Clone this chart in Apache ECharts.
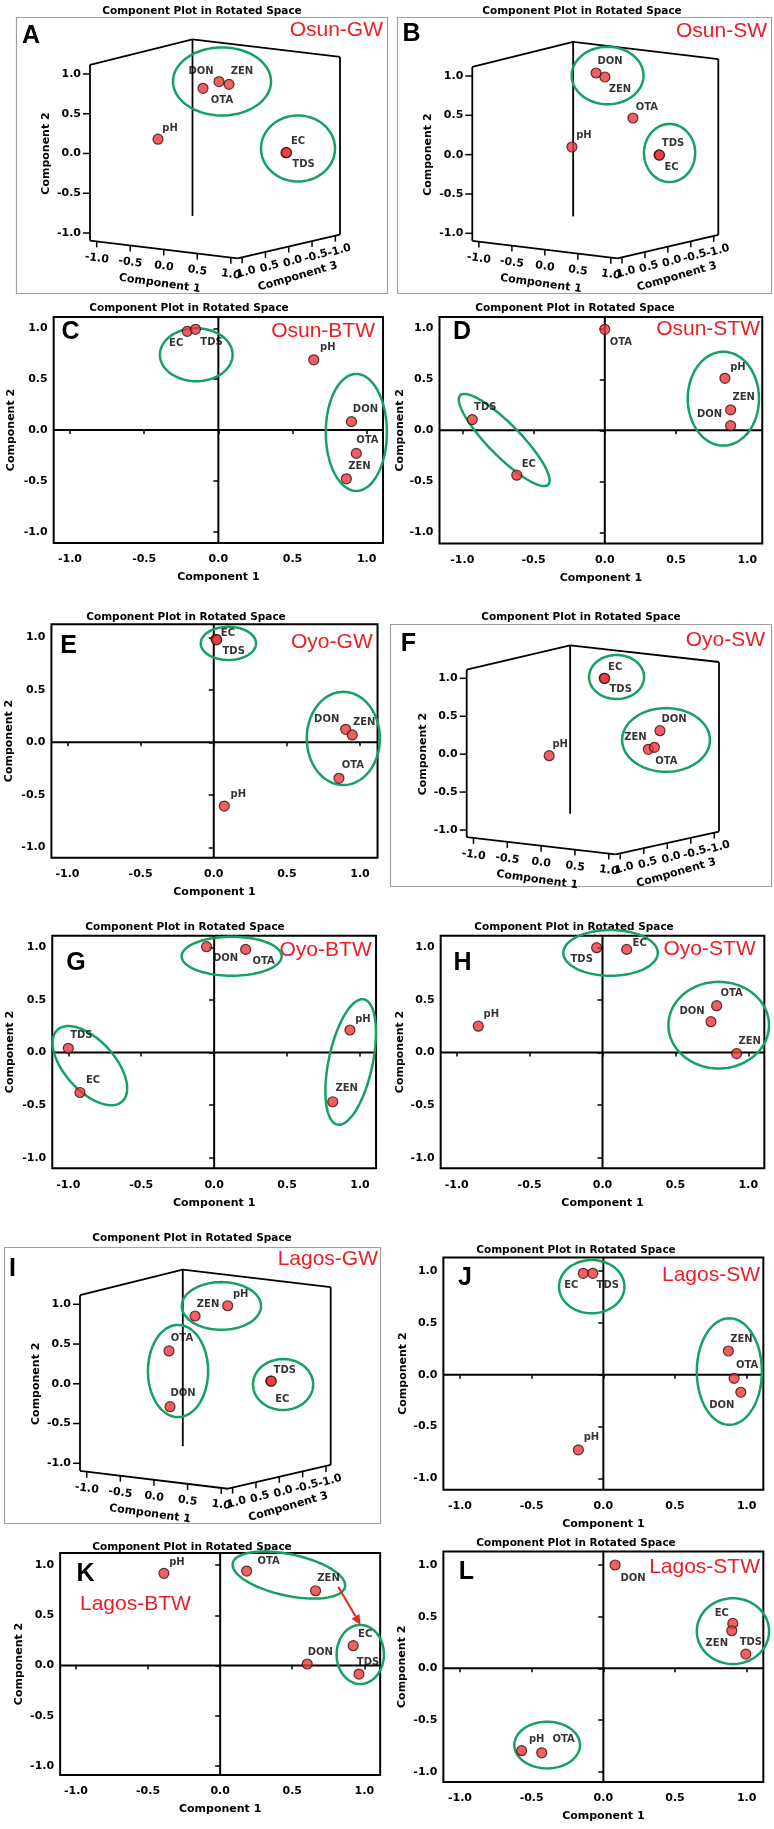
<!DOCTYPE html>
<html>
<head>
<meta charset="utf-8">
<script src="https://cdn.jsdelivr.net/npm/echarts@6/dist/echarts.min.js"></script>
<style>
html,body{margin:0;padding:0;background:#fff;}
#chart{width:774px;height:1829px;}
</style>
</head>
<body>
<div id="chart"></div>
<script>
// ======================= DATA =======================
const tickValues = [-1, -0.5, 0, 0.5, 1];
const tickLabels = ['-1.0', '-0.5', '0.0', '0.5', '1.0'];
const plotTitle = 'Component Plot in Rotated Space';
const axisNames = ['Component 1', 'Component 2', 'Component 3'];
const panelLetters = ['A','B','C','D','E','F','G','H','I','J','K','L'];
const panelNames = ['Osun-GW','Osun-SW','Osun-BTW','Osun-STW','Oyo-GW','Oyo-SW','Oyo-BTW','Oyo-STW','Lagos-GW','Lagos-SW','Lagos-BTW','Lagos-STW'];

// 3-D panels: proj = horizontal position of the point across the drawn box (0 = left edge, 1 = right edge), c2 = Component 2
const osunGW_vars = ['pH','OTA','DON','ZEN','EC','TDS'];
const osunGW_proj = [0.272, 0.452, 0.516, 0.556, 0.784, 0.786];
const osunGW_c2   = [0.18, 0.82, 0.905, 0.87, 0.01, 0.01];
const osunSW_vars = ['DON','ZEN','OTA','pH','TDS','EC'];
const osunSW_proj = [0.503, 0.539, 0.653, 0.405, 0.759, 0.761];
const osunSW_c2   = [1.038, 0.987, 0.466, 0.097, -0.004, -0.006];
const osunBTW_vars = ['EC','TDS','pH','DON','OTA','ZEN'];
const osunBTW_c1   = [-0.21, -0.154, 0.643, 0.897, 0.93, 0.863];
const osunBTW_c2   = [0.97, 0.99, 0.69, 0.082, -0.23, -0.48];
const osunSTW_vars = ['OTA','pH','ZEN','DON','TDS','EC'];
const osunSTW_c1   = [0.0, 0.843, 0.883, 0.883, -0.93, -0.618];
const osunSTW_c2   = [0.99, 0.51, 0.20, 0.045, 0.105, -0.44];
const oyoGW_vars = ['EC','TDS','DON','ZEN','OTA','pH'];
const oyoGW_c1   = [0.015, 0.02, 0.902, 0.947, 0.856, 0.072];
const oyoGW_c2   = [0.981, 0.976, 0.124, 0.07, -0.343, -0.607];
const oyoSW_vars = ['EC','TDS','DON','ZEN','OTA','pH'];
const oyoSW_proj = [0.545, 0.547, 0.766, 0.720, 0.744, 0.327];
const oyoSW_c2   = [1.0, 0.998, 0.309, 0.064, 0.09, -0.02];
const oyoBTW_vars = ['DON','OTA','pH','ZEN','TDS','EC'];
const oyoBTW_c1   = [-0.052, 0.216, 0.931, 0.813, -1.0, -0.92];
const oyoBTW_c2   = [1.006, 0.98, 0.214, -0.468, 0.04, -0.38];
const oyoSTW_vars = ['TDS','EC','OTA','DON','ZEN','pH'];
const oyoSTW_c1   = [-0.04, 0.166, 0.783, 0.744, 0.92, -0.852];
const oyoSTW_c2   = [0.996, 0.98, 0.445, 0.293, -0.01, 0.25];
const lagosGW_vars = ['ZEN','pH','OTA','DON','TDS','EC'];
const lagosGW_proj = [0.459, 0.589, 0.355, 0.359, 0.761, 0.763];
const lagosGW_c2   = [0.853, 0.982, 0.413, -0.288, 0.035, 0.033];
const lagosSW_vars = ['EC','TDS','ZEN','OTA','DON','pH'];
const lagosSW_c1   = [-0.14, -0.074, 0.872, 0.912, 0.959, -0.174];
const lagosSW_c2   = [0.978, 0.978, 0.228, -0.035, -0.17, -0.726];
const lagosBTW_vars = ['pH','OTA','ZEN','EC','DON','TDS'];
const lagosBTW_c1   = [-0.39, 0.184, 0.662, 0.923, 0.604, 0.963];
const lagosBTW_c2   = [0.917, 0.94, 0.744, 0.197, 0.015, -0.085];
const lagosSTW_vars = ['DON','EC','ZEN','TDS','pH','OTA'];
const lagosSTW_c1   = [0.082, 0.903, 0.896, 0.994, -0.57, -0.43];
const lagosSTW_c2   = [1.0, 0.435, 0.364, 0.138, -0.797, -0.817];

// ======================= ANNOTATIONS (data units) =======================
const osunGW_ell  = [[0.528,0.906,0.196,0.428,0],[0.832,0.063,0.148,0.415,0]];
const osunSW_ell  = [[0.55,1.006,0.146,0.365,0],[0.802,0.021,0.104,0.369,0]];
const osunBTW_ell = [[-0.149,0.74,0.245,0.26,0],[0.93,-0.024,0.206,0.575,0]];
const osunSTW_ell = [[-0.706,-0.095,0.44,0.157,45.5],[0.832,0.31,0.25,0.46,0]];
const oyoGW_ell   = [[0.10,0.942,0.189,0.158,0],[0.886,0.037,0.25,0.444,0]];
const oyoSW_ell   = [[0.594,1.017,0.109,0.29,0],[0.79,0.187,0.174,0.42,0]];
const oyoBTW_ell  = [[0.12,0.915,0.343,0.185,0],[-0.852,-0.125,0.331,0.238,48],[0.936,-0.09,0.439,0.209,-78]];
const oyoSTW_ell  = [[0.055,0.947,0.324,0.217,0],[0.797,0.26,0.345,0.412,0]];
const lagosGW_ell = [[0.564,0.979,0.158,0.30,0],[0.391,0.161,0.12,0.58,0],[0.81,-0.009,0.12,0.32,0]];
const lagosSW_ell = [[-0.081,0.849,0.228,0.257,0],[0.879,0.03,0.227,0.514,0]];
const lagosBTW_ell= [[0.477,0.90,0.398,0.206,12],[0.972,0.11,0.164,0.294,0]];
const lagosSTW_ell= [[0.904,0.36,0.252,0.318,0],[-0.392,-0.742,0.229,0.226,0]];
const lagosBTW_arrow = [[0.819,0.784,0.974,0.403]];

// ======================= LAYOUT / STYLE =======================
const labOff = {
  A: [[12,-11],[19,12],[-18,-10],[13,-13],[12,-11],[17,12]],
  B: [[14,-12],[15,12],[14,-11],[12,-12],[14,-12],[12,12]],
  C: [[-11,12],[16,13],[14,-12],[14,-12],[11,-13],[13,-12]],
  D: [[16,13],[13,-11],[13,-12],[-21,-11],[13,-12],[12,-11]],
  E: [[12,-6],[17,12],[-19,-10],[12,-13],[14,-13],[14,-12]],
  F: [[11,-11],[16,11],[14,-11],[-13,-12],[12,14],[11,-11]],
  G: [[19,12],[18,12],[13,-11],[14,-13],[13,-13],[13,-12]],
  H: [[-15,12],[13,-6],[15,-12],[-19,-10],[13,-12],[13,-12]],
  I: [[13,-12],[13,-11],[13,-13],[13,-13],[14,-11],[11,18]],
  J: [[-12,12],[15,12],[13,-12],[13,-13],[-19,13],[13,-12]],
  K: [[13,-11],[22,-10],[13,-12],[12,-11],[13,-12],[9,-12]],
  L: [[18,13],[-11,-10],[-15,13],[5,-12],[15,-11],[22,-13]]
};

const panels = [
  {id:'A', kind:'3d', vars:osunGW_vars, x:osunGW_proj, y:osunGW_c2, ell:osunGW_ell,
   L:{x0:90, x1:340, yp:74, ym:233, border:[16,17,387,293], title:[202,11], letter:[31,35], name:[383,29,'right']}},
  {id:'B', kind:'3d', vars:osunSW_vars, x:osunSW_proj, y:osunSW_c2, ell:osunSW_ell,
   L:{x0:472.3, x1:718.3, yp:76, ym:233.3, border:[397,17,771,293], title:[582,11], letter:[411.5,33], name:[767,30.5,'right']}},
  {id:'C', kind:'2d', vars:osunBTW_vars, x:osunBTW_c1, y:osunBTW_c2, ell:osunBTW_ell,
   L:{xm:70, xp:366.7, yp:328.3, ym:531.7, xr:[-1.11,1.11], yr:[-1.11,1.11], yGap:37, title:[189,308], letter:[70.5,331], name:[375,330,'right']}},
  {id:'D', kind:'2d', vars:osunSTW_vars, x:osunSTW_c1, y:osunSTW_c2, ell:osunSTW_ell,
   L:{xm:462.3, xp:747.3, yp:328.3, ym:532.3, xr:[-1.16,1.105], yr:[-1.11,1.11], yGap:27, title:[575,308], letter:[462,331], name:[760,328.5,'right']}},
  {id:'E', kind:'2d', vars:oyoGW_vars, x:oyoGW_c1, y:oyoGW_c2, ell:oyoGW_ell,
   L:{xm:67.5, xp:360, yp:637.3, ym:847.3, xr:[-1.11,1.12], yr:[-1.1,1.125], yGap:37, title:[186,617], letter:[68.5,645], name:[372.7,641.5,'right']}},
  {id:'F', kind:'3d', vars:oyoSW_vars, x:oyoSW_proj, y:oyoSW_c2, ell:oyoSW_ell,
   L:{x0:466.7, x1:719, yp:678.3, ym:830, border:[390,624,771,886], title:[581,617], letter:[408.5,643], name:[765,639.5,'right']}},
  {id:'G', kind:'2d', vars:oyoBTW_vars, x:oyoBTW_c1, y:oyoBTW_c2, ell:oyoBTW_ell,
   L:{xm:68.3, xp:360, yp:947.3, ym:1157.7, xr:[-1.11,1.11], yr:[-1.1,1.11], yGap:37, title:[185,927], letter:[76,962], name:[371.7,949,'right']}},
  {id:'H', kind:'2d', vars:oyoSTW_vars, x:oyoSTW_c1, y:oyoSTW_c2, ell:oyoSTW_ell,
   L:{xm:456.7, xp:748.3, yp:947.3, ym:1157.7, xr:[-1.11,1.11], yr:[-1.1,1.11], yGap:35, title:[574,927], letter:[462.5,962.5], name:[755.7,948,'right']}},
  {id:'I', kind:'3d', vars:lagosGW_vars, x:lagosGW_proj, y:lagosGW_c2, ell:lagosGW_ell,
   L:{x0:80, x1:330.7, yp:1304.3, ym:1463.3, border:[4,1247,380,1523], title:[192,1238], letter:[12.5,1268], name:[378,1258.5,'right']}},
  {id:'J', kind:'2d', vars:lagosSW_vars, x:lagosSW_c1, y:lagosSW_c2, ell:lagosSW_ell,
   L:{xm:460, xp:746.7, yp:1271, ym:1478.3, xr:[-1.116,1.116], yr:[-1.11,1.13], yGap:35, title:[576,1250], letter:[465,1277], name:[760,1274,'right']}},
  {id:'K', kind:'2d', vars:lagosBTW_vars, x:lagosBTW_c1, y:lagosBTW_c2, ell:lagosBTW_ell, arrow:lagosBTW_arrow,
   L:{xm:76, xp:364.3, yp:1565, ym:1766, xr:[-1.11,1.11], yr:[-1.09,1.12], yGap:36, title:[192,1547], letter:[85.5,1573], name:[80,1603.5,'left']}},
  {id:'L', kind:'2d', vars:lagosSTW_vars, x:lagosSTW_c1, y:lagosSTW_c2, ell:lagosSTW_ell,
   L:{xm:460, xp:746.7, yp:1565, ym:1771.7, xr:[-1.116,1.116], yr:[-1.1,1.13], yGap:36, title:[576,1543], letter:[466.5,1571], name:[760,1566.5,'right']}}
];

const BOX = {lt:[0,1.115], lb:[0,-1.095], bt:[0.41,1.435], bb:[0.41,-0.785], rt:[1,1.215], rb:[1,-1.02], f:[0.59,-1.32]};

const SPSS_FONT = '"DejaVu Sans", Verdana, sans-serif';
const SANS = '"Liberation Sans", Arial, sans-serif';
const GREEN = '#17a063';
const RED = '#ee1d25';

function tickText(v) {
  const k = tickValues.findIndex(t => Math.abs(t - v) < 1e-9);
  return k >= 0 ? tickLabels[k] : v.toFixed(1);
}
let gid = 0;
function txt(s, x, y, font, fill, align, rot) {
  return {type:'text', id:'t' + (gid++), x:x, y:y, rotation:(rot||0)*Math.PI/180, silent:true,
    style:{text:s, font:font, fill:fill||'#000', align:align||'center', verticalAlign:'middle',
           textAlign:align||'center', textVerticalAlign:'middle'}};
}

const option = {animation:false, backgroundColor:'#fff', grid:[], xAxis:[], yAxis:[], series:[], graphic:{elements:[]}};
const gfx = option.graphic.elements;

panels.forEach((p, i) => {
  const L = p.L;
  let left, top, width, height, xr, yr;
  if (p.kind === '2d') {
    const sx = (L.xp - L.xm) / 2, x0 = (L.xp + L.xm) / 2;
    const sy = (L.ym - L.yp) / 2, y0 = (L.yp + L.ym) / 2;
    xr = L.xr; yr = L.yr;
    left = x0 + xr[0] * sx; width = (xr[1] - xr[0]) * sx;
    top = y0 - yr[1] * sy; height = (yr[1] - yr[0]) * sy;
  } else {
    xr = [0, 1]; yr = [-1, 1];
    left = L.x0; width = L.x1 - L.x0; top = L.yp; height = L.ym - L.yp;
  }
  option.grid.push({left:left, top:top, width:width, height:height, show:p.kind === '2d',
    borderColor:'#000', borderWidth:2, backgroundColor:'transparent', containLabel:false});

  const is2d = p.kind === '2d';
  const labStyle = {fontFamily:SPSS_FONT, fontWeight:'bold', fontSize:11, color:'#000'};
  option.xAxis.push({gridIndex:i, type:'value', min:xr[0], max:xr[1], show:is2d,
    axisLine:{show:false}, splitLine:{show:false},
    axisTick:{show:true, length:4, customValues:tickValues, lineStyle:{color:'#000', width:1.5}},
    axisLabel:Object.assign({customValues:tickValues, margin:11, formatter:tickText}, labStyle),
    name:axisNames[0], nameLocation:'middle', nameGap:29,
    nameTextStyle:{fontFamily:SPSS_FONT, fontWeight:'bold', fontSize:11, color:'#000'}});
  option.yAxis.push({gridIndex:i, type:'value', min:yr[0], max:yr[1], show:is2d,
    axisLine:{show:false}, splitLine:{show:false},
    axisTick:{show:true, length:5, customValues:tickValues, lineStyle:{color:'#000', width:1.5}},
    axisLabel:Object.assign({customValues:tickValues, margin:6, formatter:tickText}, labStyle),
    name:axisNames[1], nameLocation:'middle', nameGap:L.yGap || 37, nameRotate:90,
    nameTextStyle:{fontFamily:SPSS_FONT, fontWeight:'bold', fontSize:11, color:'#000'}});

  if (is2d) {
    option.series.push({type:'line', xAxisIndex:i, yAxisIndex:i, silent:true, symbol:'none', z:2,
      lineStyle:{color:'#000', width:2}, data:[[xr[0],0],[xr[1],0]]});
    option.series.push({type:'line', xAxisIndex:i, yAxisIndex:i, silent:true, symbol:'none', z:2,
      lineStyle:{color:'#000', width:2}, data:[[0,yr[0]],[0,yr[1]]]});
  } else {
    option.series.push({type:'custom', xAxisIndex:i, yAxisIndex:i, silent:true, clip:false, z:2,
      data:[[0.5,0]],
      renderItem:function(params, api) {
        const P = pt => api.coord(pt);
        const ch = [];
        const line = (a, b, w) => ch.push({type:'line',
          shape:{x1:a[0], y1:a[1], x2:b[0], y2:b[1]}, style:{stroke:'#000', lineWidth:w || 1.8}});
        const lerp = (a, b, t) => [a[0] + (b[0] - a[0]) * t, a[1] + (b[1] - a[1]) * t];
        const f11 = 'bold 11px ' + SPSS_FONT;
        line(P(BOX.bt), P(BOX.bb));
        line(P(BOX.lt), P(BOX.bt));
        line(P(BOX.bt), P(BOX.rt));
        line(P(BOX.lb), P(BOX.f));
        line(P(BOX.f), P(BOX.rb));
        tickValues.forEach(v => {
          const q = P([0, v]);
          line([q[0] - 7, q[1]], q, 1.5);
          ch.push(txt(tickText(v), q[0] - 9, q[1], f11, '#000', 'right'));
          const a = P(lerp(BOX.lb, BOX.f, (v + 1.1) / 2.2));
          line(a, [a[0], a[1] + 6], 1.5);
          ch.push(txt(tickText(v), a[0], a[1] + 17, f11, '#000', 'center', -8));
          const b = P(lerp(BOX.f, BOX.rb, (1.1 - v) / 2.2));
          line(b, [b[0], b[1] + 6], 1.5);
          ch.push(txt(tickText(v), b[0] + 4, b[1] + 15, f11, '#000', 'center', 16));
        });
        const m1 = P(lerp(BOX.lb, BOX.f, 0.5));
        ch.push(txt(axisNames[0], m1[0] - 4, m1[1] + 34, f11, '#000', 'center', -8));
        const m3 = P(lerp(BOX.f, BOX.rb, 0.5));
        ch.push(txt(axisNames[2], m3[0] + 9, m3[1] + 30, f11, '#000', 'center', 16));
        const o = P([0, 0]);
        ch.push(txt(axisNames[1], o[0] - 44, o[1], f11, '#000', 'center', 90));
        return {type:'group', children:ch};
      }});
    const b = L.border;
    gfx.push({type:'rect', id:'r' + i, silent:true, z:0, shape:{x:b[0] + 0.5, y:b[1] + 0.5, width:b[2] - b[0], height:b[3] - b[1]},
      style:{fill:'none', stroke:'#a0a0a0', lineWidth:1.2}});
  }

  option.series.push({type:'custom', xAxisIndex:i, yAxisIndex:i, silent:true, clip:false, z:3,
    data:p.ell,
    renderItem:function(params, api) {
      const c = api.coord([api.value(0), api.value(1)]);
      const a = api.size([api.value(2), 0])[0];
      const bb = api.size([0, api.value(3)])[1];
      const r = api.value(4) * Math.PI / 180;
      const pts = [];
      for (let k = 0; k < 96; k++) {
        const t = k / 96 * Math.PI * 2;
        const ex = a * Math.cos(t), ey = bb * Math.sin(t);
        pts.push([c[0] + ex * Math.cos(r) - ey * Math.sin(r), c[1] + ex * Math.sin(r) + ey * Math.cos(r)]);
      }
      return {type:'polygon', shape:{points:pts}, style:{fill:'none', stroke:GREEN, lineWidth:2.5}};
    }});

  if (p.arrow) {
    option.series.push({type:'custom', xAxisIndex:i, yAxisIndex:i, silent:true, clip:false, z:4,
      data:p.arrow,
      renderItem:function(params, api) {
        const a = api.coord([api.value(0), api.value(1)]);
        const b = api.coord([api.value(2), api.value(3)]);
        const ang = Math.atan2(b[1] - a[1], b[0] - a[0]);
        const hl = 10, hw = 4.5;
        const base = [b[0] - hl * Math.cos(ang), b[1] - hl * Math.sin(ang)];
        const l = [base[0] + hw * Math.sin(ang), base[1] - hw * Math.cos(ang)];
        const rr = [base[0] - hw * Math.sin(ang), base[1] + hw * Math.cos(ang)];
        return {type:'group', children:[
          {type:'line', shape:{x1:a[0], y1:a[1], x2:base[0], y2:base[1]}, style:{stroke:'#e8251f', lineWidth:2}},
          {type:'polygon', shape:{points:[b, l, rr]}, style:{fill:'#e8251f'}}
        ]};
      }});
  }

  const offs = labOff[p.id];
  option.series.push({type:'scatter', xAxisIndex:i, yAxisIndex:i, clip:false, z:7, symbolSize:10,
    itemStyle:{color:'#e8393c', borderColor:'#3d0b0b', borderWidth:1.2},
    label:{show:true, position:'inside', formatter:'{b}', fontFamily:SPSS_FONT, fontWeight:'bold', fontSize:10, color:'#000'},
    data:p.vars.map((n, k) => ({name:n, value:[p.x[k], p.y[k]], label:{offset:offs[k]}}))});

  gfx.push(txt(plotTitle, L.title[0], L.title[1], 'bold 10.5px ' + SPSS_FONT, '#000', 'center'));
  gfx.push(txt(panelLetters[i], L.letter[0], L.letter[1] + 1, 'bold 25px ' + SANS, '#000', 'center'));
  gfx.push(txt(panelNames[i], L.name[0], L.name[1] + 1, '21px ' + SANS, RED, L.name[2]));
});

const chart = echarts.init(document.getElementById('chart'), null, {renderer:'canvas'});
chart.setOption(option);

// vertical side edges of the 3-D boxes, placed through the panel's own coordinate system
const extra = [];
panels.forEach((p, i) => {
  if (p.kind !== '3d') return;
  [['lt','lb'],['rt','rb']].forEach((s, k) => {
    const a = chart.convertToPixel({gridIndex:i}, BOX[s[0]]);
    const b = chart.convertToPixel({gridIndex:i}, BOX[s[1]]);
    extra.push({type:'polyline', id:'e' + i + '_' + k, silent:true, z:50,
      shape:{points:[a, b]}, style:{stroke:'#000', lineWidth:1.8, fill:'none'}});
  });
});
chart.setOption({graphic:{elements:gfx.concat(extra)}});
</script>
</body>
</html>
